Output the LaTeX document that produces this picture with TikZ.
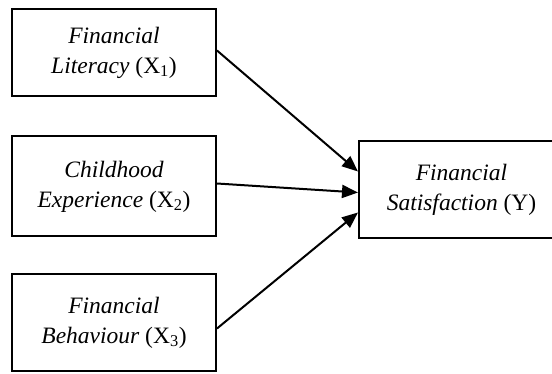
\documentclass[tikz,border=0pt]{standalone}
\usepackage{fontspec}
\setmainfont{Liberation Serif}
\usetikzlibrary{arrows.meta}
\begin{document}
\begin{tikzpicture}[x=1pt,y=-1pt]
  \tikzset{vb/.style={draw,rectangle,line width=2pt,align=center,inner sep=0pt,
      font=\fontsize{23.5}{30}\selectfont},
    ar/.style={line width=2pt,-{Triangle[length=16pt,width=13pt]}}}
  \path[use as bounding box,clip] (0,0) rectangle (552,374);
  \node[vb,minimum width=204pt,minimum height=87pt] (x1) at (114,52.5) {\textit{Financial}\\\textit{Literacy} (X\textsubscript{1})};
  \node[vb,minimum width=204pt,minimum height=100pt] (x2) at (114,186.5) {\textit{Childhood}\\\textit{Experience} (X\textsubscript{2})};
  \node[vb,minimum width=204pt,minimum height=97pt] (x3) at (114,322.5) {\textit{Financial}\\\textit{Behaviour} (X\textsubscript{3})};
  \node[vb,minimum width=205pt,minimum height=97pt] (y) at (461.5,189.5) {\textit{Financial}\\\textit{Satisfaction} (Y)};
  \draw[ar] ([yshift=2pt]x1.east) -- ([yshift=18pt]y.west);
  \draw[ar] ([yshift=3pt]x2.east) -- ([yshift=-3pt]y.west);
  \draw[ar] ([yshift=-6pt]x3.east) -- ([yshift=-23pt]y.west);
\end{tikzpicture}
\end{document}
